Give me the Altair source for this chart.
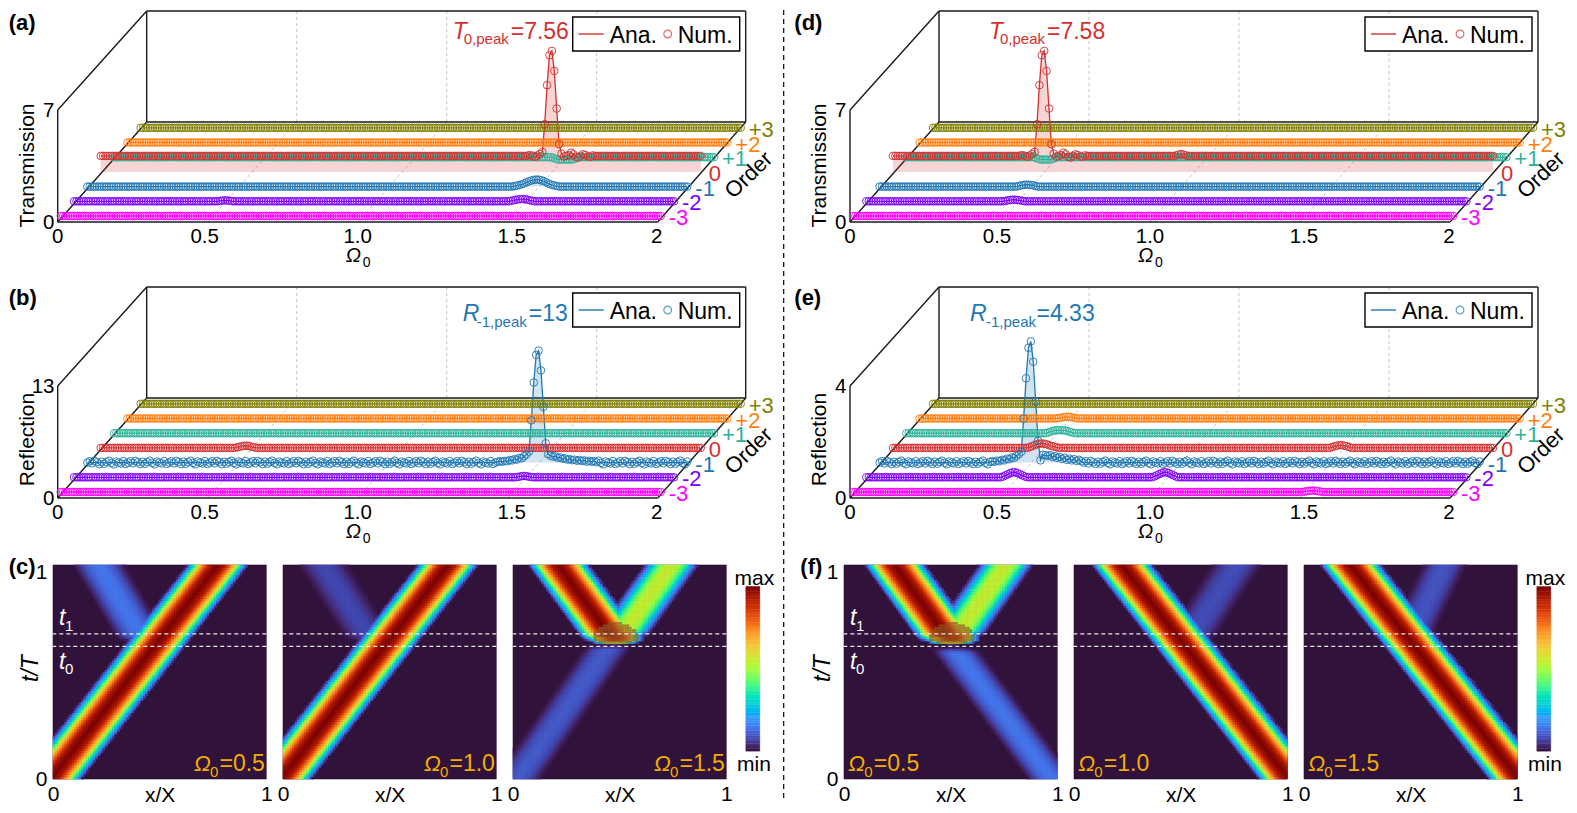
import altair as alt
import numpy as np
import pandas as pd

alt.data_transformers.disable_max_rows()

FONT = "Liberation Sans"
ORDERS = ["+3", "+2", "+1", "0", "-1", "-2", "-3"]          # back to front
ROW = {"-3": 0, "-2": 1, "-1": 2, "0": 3, "+1": 4, "+2": 5, "+3": 6}
COLORS = ["#808000", "#ff7f0e", "#2ab39a", "#d62f2f", "#1f77b4", "#8000ff", "#ff00ff"]
RED, BLUE, GOLD = "#d62f2f", "#1f77b4", "#f2ae00"
OMEGA_TICKS = [0, 0.5, 1, 1.5, 2]
OMEGA_LABELS = ["0", "0.5", "1.0", "1.5", "2"]
OMEGA_LABEL_SHIFT = [0, -3, 0, 4, -1]
STEP = 0.008
COUNT = 251
TURBO_STOPS = ["#30123b", "#4145ab", "#4675ed", "#39a2fc", "#1bcfd4", "#24eca6", "#61fc6c", "#a4fc3b",
               "#d1e834", "#f3c63a", "#fe9b2d", "#f36315", "#d93806", "#b11901", "#7a0402"]

# values: {sample index: value} on top of each flat row
PEAK_T = [1.25, 2.98, 5.42, 7.29, 7.56, 6.31, 3.96, 1.73, 1.14]
RIPPLE_T = [0.96, 1.0, 1.05, 1.2, 1.1, 0.95, 0.9, 1.0, 1.1, 1.05, 0.97, 0.95, 1.03]
LEFT_T = [1.02, 1.05, 1.0, 0.95, 1.02, 1.12]
PEAK_R13 = [0.96, 1.28, 4.9, 9.29, 12.5, 13.0, 10.7, 6.47, 2.24, 0.96]
RISE_R13 = [0.1, 0.15, 0.1, 0.2, 0.15, 0.3, 0.25, 0.4, 0.35, 0.55, 0.5, 0.75]
FALL_R13 = [0.8, 0.7, 0.75, 0.55, 0.6, 0.45, 0.5, 0.35, 0.4, 0.28, 0.34, 0.22, 0.3, 0.18, 0.25, 0.12, 0.2, 0.1, 0.17, 0.05]
WOBBLE_R13 = [0.0, 0.16, -0.08, 0.2, 0.04, -0.18, 0.1, -0.14, 0.05, 0.22, -0.04, -0.2, 0.12, 0.0, -0.1, 0.18, -0.16]
PEAK_R4 = [0.39, 1.57, 3.01, 4.1, 4.33, 3.6, 2.18, 0.78, 0.08, 0.28, 0.26]
RISE_R4 = [0.03, 0.05, 0.03, 0.07, 0.05, 0.1, 0.08, 0.14, 0.12, 0.18, 0.16, 0.24, 0.3]
FALL_R4 = [0.24, 0.27, 0.2, 0.23, 0.17, 0.2, 0.13, 0.17, 0.1, 0.14, 0.08, 0.12, 0.06, 0.1, 0.05]
WOBBLE_R4 = [0.0, 0.05, -0.03, 0.06, 0.01, -0.05, 0.03, -0.04, 0.02, 0.07, -0.01, -0.06, 0.04, 0.0, -0.03, 0.05, -0.05]

def run(start, values):
    return {start + n: v for n, v in enumerate(values)}

SERIES_A = {
    "0": {**run(178, LEFT_T), **run(184, PEAK_T), **run(193, RIPPLE_T)},
    "+1": run(183, [-0.05, -0.1, -0.15, -0.15, -0.15, -0.15, -0.15, -0.15, -0.15, -0.1, -0.05]),
    "-1": run(178, [0.03, 0.06, 0.1, 0.14, 0.2, 0.27, 0.33, 0.38, 0.42, 0.44, 0.44, 0.4, 0.35, 0.28, 0.2, 0.14, 0.09, 0.05, 0.02]),
    "-2": {**run(61, [0.03, 0.05, 0.06, 0.05, 0.03]), **run(182, [0.03, 0.06, 0.09, 0.12, 0.14, 0.14, 0.13, 0.1, 0.06, 0.03])},
}
SERIES_D = {
    "0": {**run(53, LEFT_T), **run(59, PEAK_T), **run(68, RIPPLE_T), **run(118, [1.03, 1.08, 1.12, 1.08, 1.03])},
    "+1": run(54, [-0.05, -0.1, -0.15, -0.15, -0.15, -0.15, -0.15, -0.1, -0.05]),
    "-1": run(58, [0.04, 0.08, 0.1, 0.12, 0.12, 0.1, 0.08, 0.04]),
    "-2": run(58, [0.03, 0.06, 0.08, 0.1, 0.1, 0.08, 0.06, 0.03]),
}
SERIES_B = {
    "+1": {},
    "0": run(57, [0.08, 0.15, 0.2, 0.25, 0.25, 0.2, 0.12, 0.06]),
    "-1": {**run(171, RISE_R13), **run(183, PEAK_R13), **run(193, FALL_R13)},
    "-2": run(185, [0.05, 0.1, 0.15, 0.15, 0.1, 0.05]),
}
SERIES_E = {
    "+2": run(58, [0.02, 0.03, 0.05, 0.06, 0.06, 0.05, 0.03, 0.02]),
    "+1": run(59, [0.02, 0.05, 0.08, 0.1, 0.11, 0.11, 0.1, 0.1, 0.08, 0.05, 0.03]),
    "0": {**run(57, [0.03, 0.06, 0.1, 0.13, 0.15, 0.16, 0.15, 0.13, 0.1, 0.07, 0.05, 0.03]),
          **run(183, [0.03, 0.06, 0.08, 0.1, 0.1, 0.08, 0.06, 0.03])},
    "-1": {**run(46, RISE_R4), **run(59, PEAK_R4), **run(70, FALL_R4)},
    "-2": {**run(57, [0.03, 0.07, 0.11, 0.15, 0.18, 0.18, 0.15, 0.11, 0.07, 0.03]),
           **run(120, [0.03, 0.07, 0.11, 0.15, 0.18, 0.18, 0.15, 0.11, 0.07, 0.03])},
    "-3": run(188, [0.01, 0.03, 0.04, 0.05, 0.05, 0.04, 0.03, 0.01]),
}

# heat-map bands: x at one t, x at another t, half width, strength
PROFILE_D = [0, 0.25, 0.4, 0.52, 0.62, 0.72, 0.82, 0.92, 1.0]
PROFILE_V = [1.0, 0.93, 0.8, 0.68, 0.55, 0.38, 0.25, 0.12, 0.0]
BANDS = {
    "c1": [(-0.01, 0.0, 0.773, 1.0, 0.145, 1.0), (0.43, 0.64, 0.216, 1.0, 0.125, 0.15)],
    "c2": [(-0.01, 0.0, 0.773, 1.0, 0.145, 1.0), (0.42, 0.64, 0.19, 1.0, 0.125, 0.08)],
    "c3": [(0.48, 0.64, 0.215, 1.0, 0.145, 1.0), (0.50, 0.66, 0.743, 1.0, 0.13, 0.56), (0.02, 0.0, 0.46, 0.635, 0.115, 0.11)],
    "f1": [(0.50, 0.64, 0.24, 1.0, 0.145, 1.0), (0.52, 0.66, 0.76, 1.0, 0.13, 0.56), (0.975, 0.0, 0.51, 0.62, 0.115, 0.15)],
    "f2": [(1.01, 0.0, 0.227, 1.0, 0.145, 1.0), (0.53, 0.64, 0.764, 1.0, 0.125, 0.09)],
    "f3": [(1.01, 0.0, 0.22, 1.0, 0.145, 1.0), (0.49, 0.65, 0.66, 1.0, 0.11, 0.1)],
}
# blob: x, t, half width, reach above, reach below, strength
BLOBS = {"c3": (0.48, 0.655, 0.135, 0.095, 0.028, 0.96), "f1": (0.505, 0.655, 0.135, 0.095, 0.028, 0.96)}
BLOB_COLOR = "#8f5a25"
T_LINES = [0.62, 0.678]
CELLS = 90
BAR_LEVELS = 64
CELL_W = 213.3


def series(table, base, use_wobble):
    rows = []
    wobble = base.get("wobble", {}) if use_wobble else {}
    for order in ORDERS:
        marks = table.get(order, {})
        flat = base.get(order, 0.0)
        pattern = wobble.get(order, [0.0])
        for i in range(COUNT):
            rows.append({"order": order, "i": i, "omega": round(i * STEP, 3),
                         "v": marks.get(i, flat + pattern[i % len(pattern)])})
    return pd.DataFrame(rows)


def text(content, x, y, size=23, color="black", **kw):
    return alt.Chart(pd.DataFrame({"t": [content]})).mark_text(
        align=kw.pop("align", "left"), baseline=kw.pop("baseline", "alphabetic"),
        fontSize=size, color=color, font=FONT, **kw
    ).encode(x=alt.value(x), y=alt.value(y), text="t:N")


def place(d, k):
    d = d.copy()
    d["row"] = d["order"].map(ROW)
    d["x"] = d["omega"] + (3 + 13.33 * d["row"]) / 300
    d["y0"] = (6 + 14.7 * d["row"]) / k
    d["y"] = d["y0"] + d["v"]
    return d


def panel3d(table, base, k, tick, y_title, inset, label_pad, title_x, title_y, tag, tag_x, tag_baseline,
            color, sym, sub, eq, sym_x, sub_x, eq_x, y_sym, y_sub, below=0.0, extra=None):
    height = 211 + below
    x_enc = alt.X("x:Q", scale=alt.Scale(domain=[-inset / 300, (CELL_W - inset) / 300], nice=False, zero=False),
                  axis=alt.Axis(labels=False, title=None, domain=False, ticks=False, grid=False))
    y_enc = alt.Y("y:Q", scale=alt.Scale(domain=[-below / k, 211 / k], nice=False, zero=False),
                  axis=alt.Axis(values=[0, tick], title=y_title, domain=False, ticks=False, grid=False,
                                labelFontSize=20.5, labelColor="black", labelPadding=label_pad, labelFlush=False,
                                labelOverlap=False, titleFontSize=21, titleFontWeight="normal", titleColor="black",
                                titleX=title_x, titleY=title_y, titleBaseline="alphabetic", titleAlign="center",
                                titleAngle=270))
    color_enc = alt.Color("order:N", scale=alt.Scale(domain=ORDERS, range=COLORS), legend=None)

    # frame and guides
    segs = [((0, 0), (0, 112)), ((0, 112), (89, 211)), ((89, 211), (688, 211)), ((688, 211), (688, 100)),
            ((688, 100), (89, 100)), ((89, 100), (89, 211)), ((0, 0), (600, 0)), ((600, 0), (688, 100)), ((0, 0), (89, 100))]
    frame = pd.DataFrame([{"s": n, "x": p[0] / 300, "y": p[1] / k} for n, s in enumerate(segs) for p in s])
    guides = []
    for n, w in enumerate([0.5, 1.0, 1.5]):
        guides += [{"s": n, "x": w, "y": 0}, {"s": n, "x": w + 89 / 300, "y": 100 / k},
                   {"s": n + 10, "x": w + 89 / 300, "y": 100 / k}, {"s": n + 10, "x": w + 89 / 300, "y": 211 / k}]
    guides = pd.DataFrame(guides)

    curve = place(series(table, base, False), k)
    rings = place(series(table, base, True), k)

    label_rows = pd.DataFrame([{"order": o, "x": 2 + (3 + 13.33 * ROW[o]) / 300, "y": (6 + 14.7 * ROW[o]) / k} for o in ORDERS])
    ticks = pd.DataFrame({"x": [t + s / 300 for t, s in zip(OMEGA_TICKS, OMEGA_LABEL_SHIFT)], "t": OMEGA_LABELS})

    layers = [
        alt.Chart(guides).mark_line(color="#c4c4c4", strokeDash=[3, 3], strokeWidth=1).encode(x=x_enc, y=y_enc, detail="s:N"),
        alt.Chart(frame).mark_line(color="#1a1a1a", strokeWidth=1.4).encode(x=x_enc, y=y_enc, detail="s:N"),
        alt.Chart(curve).mark_area(opacity=0.2).encode(x=x_enc, y=y_enc, y2="y0:Q", color=color_enc),
        alt.Chart(curve).mark_line(strokeWidth=1.3).encode(x=x_enc, y=y_enc, color=color_enc),
        alt.Chart(rings).mark_point(filled=False, size=58, strokeWidth=1, opacity=0.9).encode(x=x_enc, y=y_enc, color=color_enc),
        alt.Chart(ticks).mark_text(fontSize=20.5, font=FONT, color="black", baseline="middle").encode(
            x=x_enc, y=alt.value(226), text="t:N"),
        alt.Chart(label_rows).mark_text(align="left", baseline="middle", dx=8, dy=2, fontSize=22, font=FONT).encode(
            x=x_enc, y=y_enc, text="order:N", color=color_enc),
        text("Order", inset + 691, 164, size=22, align="center", baseline="middle", angle=316),
        text("\u03a9", inset + 288, 251, size=20, fontStyle="italic"),
        text("0", inset + 305, 256, size=14),
        text(tag, tag_x, tag_baseline, size=22, fontWeight="bold"),
        # peak note
        text(sym, inset + sym_x, y_sym, size=23, color=color, fontStyle="italic"),
        text(sub, inset + sub_x, y_sub, size=15, color=color),
        text(eq, inset + eq_x, y_sym, size=23, color=color),
        # key
        alt.Chart(pd.DataFrame({"k": [0]})).mark_rect(fill="white", stroke="black", strokeWidth=1.4).encode(
            x=alt.value(inset + 515), x2=alt.value(inset + 682), y=alt.value(6), y2=alt.value(40)),
        alt.Chart(pd.DataFrame({"k": [0]})).mark_rule(color=color, strokeWidth=1.4).encode(
            x=alt.value(inset + 521), x2=alt.value(inset + 546), y=alt.value(23)),
        text("Ana.", inset + 552, 32),
        alt.Chart(pd.DataFrame({"k": [0]})).mark_point(filled=False, color=color, strokeWidth=1.2).encode(
            x=alt.value(inset + 610), y=alt.value(23), size=alt.value(60)),
        text("Num.", inset + 620, 32),
    ]
    if extra is not None:
        layers.append(extra)
    return alt.layer(*layers).properties(width=CELL_W, height=height)


def heat_cells(name):
    edges = np.linspace(0, 1, CELLS + 1)
    rows = [{"x0": 0.0, "x1": 1.0, "t0": 0.0, "t1": 1.0, "v": 0.0, "b": 0}]
    for j in range(CELLS):
        t = (edges[j] + edges[j + 1]) / 2
        for i in range(CELLS):
            x = (edges[i] + edges[i + 1]) / 2
            v = 0.0
            inner = 0
            for xa, ta, xb, tb, hw, amp in BANDS[name]:
                lo, hi = min(ta, tb), max(ta, tb)
                if t < lo or t > hi:
                    continue
                centre = xa + (xb - xa) * (t - ta) / (tb - ta)
                fade = 1.0
                if lo > 0:
                    fade = min(fade, (t - lo) / 0.03)
                if hi < 1:
                    fade = min(fade, (hi - t) / 0.03)
                v = max(v, amp * fade * float(np.interp(abs(x - centre) / hw, PROFILE_D, PROFILE_V)))
            if name in BLOBS:
                bx, bt, sx, up, down, amp = BLOBS[name]
                r = np.hypot((x - bx) / sx, (t - bt) / (up if t >= bt else down))
                v = max(v, amp * float(np.interp(r, PROFILE_D, PROFILE_V)))
                inner = 1 if r < 0.8 else 0
            if v > 0.004:
                rows.append({"x0": round(edges[i], 4), "x1": round(edges[i + 1], 4), "t0": round(edges[j], 4),
                             "t1": round(edges[j + 1], 4), "v": round(v, 3), "b": inner})
    return pd.DataFrame(rows)


TURBO = alt.Scale(domain=list(np.linspace(0, 1, len(TURBO_STOPS))), range=TURBO_STOPS)


def heat_panel(name, label, om_x, show_y=False, tag=None, tag_x=0, title_x=-16):
    x_axis = alt.Axis(values=[0, 1], title="x/X", domain=False, ticks=False, grid=False, labelFontSize=21,
                      labelColor="black", labelPadding=4, labelFlush=False, labelOverlap=False, format="d",
                      titleFontSize=21, titleFontWeight="normal", titleColor="black", titleY=22.5, titleBaseline="alphabetic")
    y_axis = None
    if show_y:
        y_axis = alt.Axis(
            values=[0, 0.967], title="t/T", domain=False, ticks=False, grid=False, labelFontSize=21, labelColor="black",
            labelPadding=6, labelFlush=False, labelOverlap=False, labelExpr="datum.value > 0.5 ? '1' : '0'",
            titleFontSize=23, titleFontWeight="normal",
            titleFontStyle="italic", titleColor="black", titleX=title_x, titleY=103, titleBaseline="alphabetic", titleAngle=270)
    y_scale = alt.Scale(domain=[0, 1], nice=False)
    y_enc = alt.Y("t0:Q", scale=y_scale, axis=y_axis)
    x_enc = alt.X("x0:Q", scale=alt.Scale(domain=[0, 1], nice=False), axis=x_axis)
    cells = heat_cells(name)
    layers = [
        alt.Chart(cells).mark_rect(strokeWidth=0.6).encode(
            x=x_enc, x2="x1:Q", y=y_enc, y2="t1:Q",
            color=alt.Color("v:Q", scale=TURBO, legend=None),
            stroke=alt.Stroke("v:Q", scale=TURBO, legend=None)),
    ]
    blob_cells = cells[cells["b"] == 1]
    if len(blob_cells):
        layers.append(alt.Chart(blob_cells).mark_rect(color=BLOB_COLOR, opacity=0.72).encode(
            x=x_enc, x2="x1:Q", y=y_enc, y2="t1:Q"))
    layers += [
        alt.Chart(pd.DataFrame({"t": T_LINES})).mark_rule(color="white", strokeDash=[4, 3], strokeWidth=1.2, opacity=0.9).encode(
            y=alt.Y("t:Q", scale=y_scale, axis=y_axis)),
        text("\u03a9", om_x, 206.3, size=22, color=GOLD, fontStyle="italic"),
        text("0", om_x + 16, 212, size=15, color=GOLD),
        text(label, om_x + 25.5, 206.3, size=23, color=GOLD),
    ]
    if show_y:
        layers += [
            text("t", 6, 60, size=23, color="white", fontStyle="italic"),
            text("1", 12, 66, size=15, color="white"),
            text("t", 6, 103.7, size=23, color="white", fontStyle="italic"),
            text("0", 12, 108.7, size=15, color="white"),
            text(tag, tag_x, 9, size=22, fontWeight="bold"),
        ]
    return alt.layer(*layers).properties(width=CELL_W, height=214)


def colorbar(total_width):
    lv = np.linspace(0, 1, BAR_LEVELS + 1)
    d = pd.DataFrame({"l0": lv[:-1], "l1": lv[1:], "v": (lv[:-1] + lv[1:]) / 2})
    d["y0"] = 0.13 + 0.77 * d["l0"]
    d["y1"] = 0.13 + 0.77 * d["l1"]
    d["a"] = 2.8
    d["b"] = 16.8
    bar = alt.Chart(d).mark_rect(strokeWidth=0.4).encode(
        x=alt.X("a:Q", scale=alt.Scale(domain=[0, total_width], nice=False), axis=None), x2="b:Q",
        y=alt.Y("y0:Q", scale=alt.Scale(domain=[0, 1], nice=False), axis=None), y2="y1:Q",
        color=alt.Color("v:Q", scale=TURBO, legend=None),
        stroke=alt.Stroke("v:Q", scale=TURBO, legend=None))
    return alt.layer(bar, text("max", 11.4, 14, size=21, align="center", baseline="middle"),
                     text("min", 11, 200, size=21, align="center", baseline="middle")).properties(width=total_width, height=214)


def empty():
    return alt.Chart(pd.DataFrame({"k": [0]})).mark_point(opacity=0).encode(
        x=alt.value(0), y=alt.value(0)).properties(width=1, height=1)


sep = alt.Chart(pd.DataFrame({"k": [0]})).mark_rule(color="black", strokeDash=[5, 4], strokeWidth=1.2).encode(
    x=alt.value(783 - 52.3), y=alt.value(-1), y2=alt.value(790))

a = panel3d(SERIES_A, {"0": 1.0}, 16, 7, "Transmission", 4.7, -1, -20, 154, "(a)", -44.3, 19,
            RED, "T", "0,peak", "=7.56", 395, 406, 453, 28, 33, extra=sep)
b = panel3d(SERIES_B, {"wobble": {"-1": WOBBLE_R13}}, 112 / 13, 13, "Reflection", 4.7, -1, -20, 152, "(b)", -44.3, 18,
            BLUE, "R", "-1,peak", "=13", 405, 419, 471, 34, 40, below=1.7)
d_ = panel3d(SERIES_D, {"0": 1.0}, 16, 7, "Transmission", 6, -2, -18.7, 154, "(d)", -49.7, 19,
             RED, "T", "0,peak", "=7.58", 139, 150, 197, 28, 33)
e = panel3d(SERIES_E, {"wobble": {"-1": WOBBLE_R4}}, 28, 4, "Reflection", 6, -2, -18.7, 152, "(e)", -49.7, 18,
            BLUE, "R", "-1,peak", "=4.33", 120, 136, 186.5, 34, 40, below=1.7)

def blanks(n):
    return [empty() for _ in range(n)]

cells = [a] + blanks(3) + [d_] + blanks(3) + [b] + blanks(3) + [e] + blanks(3) + [
    heat_panel("c1", "=0.5", 141, True, "(c)", -44.3), heat_panel("c2", "=1.0", 141), heat_panel("c3", "=1.5", 141), colorbar(84.5),
    heat_panel("f1", "=0.5", 4.3, True, "(f)", -43.7, -15), heat_panel("f2", "=1.0", 4.3), heat_panel("f3", "=1.5", 4.3), colorbar(16.8),
]

chart = alt.concat(*cells, columns=8, spacing=alt.RowColnumber(row=65, column=16), bounds="flush").properties(
    padding={"left": 0, "top": 0, "right": 0, "bottom": -1}
).configure(font=FONT).configure_view(stroke=None)

chart.save("out.html", embed_options={"renderer": "svg", "actions": False})
